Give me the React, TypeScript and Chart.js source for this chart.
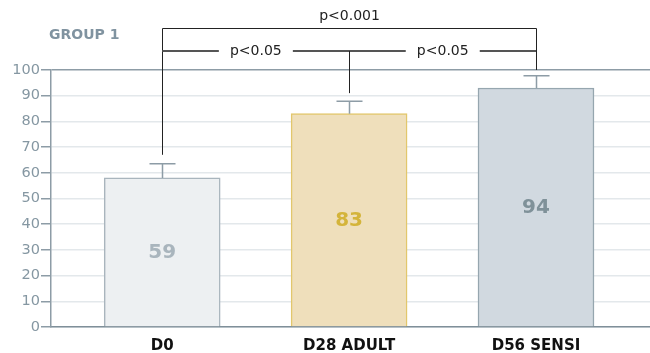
import React, { useEffect, useRef } from "react";
import { Chart, registerables } from "chart.js";

Chart.register(...registerables);

const categories = ["D0", "D28 ADULT", "D56 SENSI"];
const barValues = [58, 83, 93];
const valueLabels = ["59", "83", "94"];
const errorTops = [63.5, 87.8, 97.8];
const yTicks = [0, 10, 20, 30, 40, 50, 60, 70, 80, 90, 100];
const groupTitle = "GROUP 1";
const outerBracket = { from: 0, to: 2, level: 116.3, label: "p<0.001", leftEnd: 67, rightEnd: 100 };
const innerBracket = { from: 0, mid: 1, to: 2, level: 107.4, labels: ["p<0.05", "p<0.05"], midEnd: 91 };

const fillColors = ["#edf0f2", "#efdfbb", "#d1d9e0"];
const borderColors = ["#a9b5bd", "#e2c76c", "#96a6af"];
const errColors = ["#8d9ca6", "#8d9ca6", "#8d9ca6"];
const labelColors = ["#a9b5bd", "#d4b43a", "#7f9199"];

const FONT = "'DejaVu Sans', sans-serif";

export default function App() {
  const ref = useRef<HTMLCanvasElement>(null);
  useEffect(() => {
    document.body.style.margin = "0";
    const overlay = {
      id: "overlay",
      afterDatasetsDraw(chart: any) {
        const { ctx } = chart;
        const x = chart.scales.x;
        const y = chart.scales.y;
        ctx.save();
        barValues.forEach((v, i) => {
          const cx = Math.round(x.getPixelForValue(i)) + 0.5;
          ctx.strokeStyle = errColors[i];
          ctx.lineWidth = 1.5;
          ctx.beginPath();
          ctx.moveTo(cx, y.getPixelForValue(v));
          ctx.lineTo(cx, y.getPixelForValue(errorTops[i]));
          ctx.moveTo(cx - 13, y.getPixelForValue(errorTops[i]));
          ctx.lineTo(cx + 13, y.getPixelForValue(errorTops[i]));
          ctx.stroke();
        });
        ctx.font = `bold 20px ${FONT}`;
        ctx.textAlign = "center";
        ctx.textBaseline = "middle";
        barValues.forEach((v, i) => {
          ctx.fillStyle = labelColors[i];
          ctx.fillText(valueLabels[i], x.getPixelForValue(i), y.getPixelForValue(v / 2));
        });
        const ob = outerBracket;
        const oy = Math.round(y.getPixelForValue(ob.level)) + 0.5;
        const ox1 = Math.round(x.getPixelForValue(ob.from)) + 0.5;
        const ox2 = Math.round(x.getPixelForValue(ob.to)) + 0.5;
        ctx.strokeStyle = "#222";
        ctx.lineWidth = 1;
        ctx.beginPath();
        ctx.moveTo(ox1, y.getPixelForValue(ob.leftEnd));
        ctx.lineTo(ox1, oy);
        ctx.lineTo(ox2, oy);
        ctx.lineTo(ox2, y.getPixelForValue(ob.rightEnd));
        ctx.stroke();
        ctx.font = `14px ${FONT}`;
        ctx.fillStyle = "#222";
        ctx.textBaseline = "middle";
        ctx.fillText(ob.label, (ox1 + ox2) / 2, oy - 12);
        const ib = innerBracket;
        const iy = Math.round(y.getPixelForValue(ib.level));
        const ix1 = x.getPixelForValue(ib.from);
        const ixm = Math.round(x.getPixelForValue(ib.mid)) + 0.5;
        const ix2 = x.getPixelForValue(ib.to);
        const gap = 37;
        const c1 = (ix1 + ixm) / 2;
        const c2 = (ixm + ix2) / 2;
        ctx.strokeStyle = "#555";
        ctx.lineWidth = 2;
        ctx.beginPath();
        ctx.moveTo(ix1, iy);
        ctx.lineTo(c1 - gap, iy);
        ctx.moveTo(c1 + gap, iy);
        ctx.lineTo(c2 - gap, iy);
        ctx.moveTo(c2 + gap, iy);
        ctx.lineTo(ix2, iy);
        ctx.stroke();
        ctx.strokeStyle = "#222";
        ctx.lineWidth = 1;
        ctx.beginPath();
        ctx.moveTo(ixm, iy);
        ctx.lineTo(ixm, y.getPixelForValue(ib.midEnd));
        ctx.stroke();
        ctx.fillStyle = "#222";
        ctx.fillText(ib.labels[0], c1, iy);
        ctx.fillText(ib.labels[1], c2, iy);
        ctx.font = `bold 14px ${FONT}`;
        ctx.fillStyle = "#8093a0";
        ctx.textAlign = "left";
        ctx.fillText(groupTitle, 49, 35);
        ctx.restore();
      },
    };
    const chart = new Chart(ref.current!, {
      type: "bar",
      data: {
        datasets: [
          {
            data: barValues.map((v, i) => ({ x: i, y: v })),
            backgroundColor: fillColors,
            borderColor: borderColors,
            borderWidth: 1.5,
            barThickness: 116,
          },
        ],
      },
      options: {
        animation: false,
        responsive: false,
        layout: { padding: { top: 70, right: 0, left: 0, bottom: 0 } },
        plugins: { legend: { display: false }, tooltip: { enabled: false } },
        scales: {
          x: {
            type: "linear",
            offset: false,
            min: -0.595,
            max: 2.61,
            afterBuildTicks: (s: any) => {
              s.ticks = categories.map((_, i) => ({ value: i }));
            },
            afterFit: (s: any) => {
              s.height = 26;
            },
            ticks: {
              callback: (v: any) => categories[v] ?? "",
              color: "#111",
              font: { family: FONT, size: 15, weight: "bold" },
              padding: 2,
              maxRotation: 0,
            },
            grid: { display: false },
            border: { color: "#7f8f99", width: 1.5 },
          },
          y: {
            min: 0,
            max: 100,
            afterBuildTicks: (s: any) => {
              s.ticks = yTicks.map((v) => ({ value: v }));
            },
            afterFit: (s: any) => {
              s.width = 51;
            },
            ticks: {
              color: "#8597a2",
              font: { family: FONT, size: 14.5 },
              padding: 1,
            },
            grid: {
              color: (c: any) => (c.tick && c.tick.value === 100 ? "#8d9ca6" : "#e3e8eb"),
              lineWidth: 1.5,
              tickLength: 10,
              tickColor: "#8d9ca6",
            },
            border: { color: "#8d9ca6", width: 1.5 },
          },
        },
      },
      plugins: [overlay],
    });
    return () => chart.destroy();
  }, []);
  return (
    <div style={{ position: "fixed", left: 0, top: 0, width: 650, height: 353 }}>
      <canvas ref={ref} width={650} height={353} style={{ width: 650, height: 353 }} />
    </div>
  );
}
